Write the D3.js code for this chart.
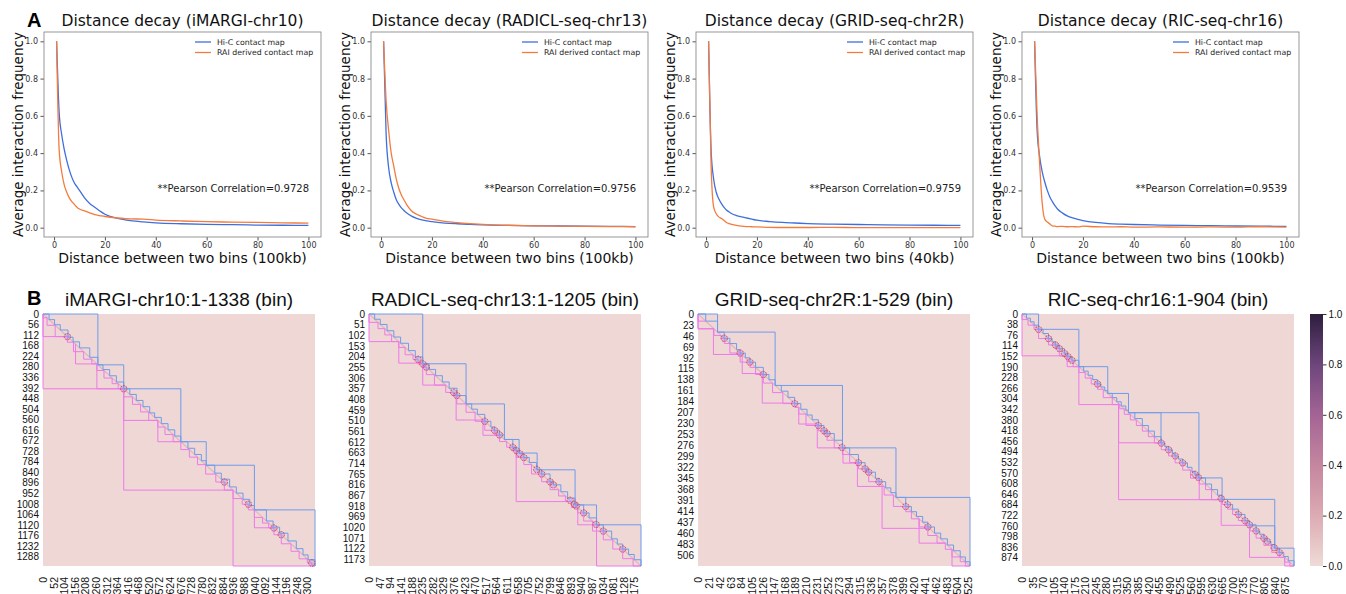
<!DOCTYPE html>
<html>
<head>
<meta charset="utf-8">
<script src="https://cdn.jsdelivr.net/npm/d3@7"></script>
<style>
body { margin: 0; background: #fff; }
svg { display: block; }
</style>
</head>
<body>
<svg id="fig" width="1346" height="594"></svg>
<script>
// ---- panel A: distance decay ----
var decayTitles = ["Distance decay (iMARGI-chr10)", "Distance decay (RADICL-seq-chr13)",
                   "Distance decay (GRID-seq-chr2R)", "Distance decay (RIC-seq-chr16)"];
var decayXLabels = ["Distance between two bins (100kb)", "Distance between two bins (100kb)",
                    "Distance between two bins (40kb)", "Distance between two bins (100kb)"];
var pearson = ["0.9728", "0.9756", "0.9759", "0.9539"];
var seriesNames = ["Hi-C contact map", "RAI derived contact map"];
var decayXTicks = [0, 20, 40, 60, 80, 100];
var decayYTicks = [0, 0.2, 0.4, 0.6, 0.8, 1.0];

var distance = [1, 2, 3, 4, 5, 6, 7, 8, 9, 10, 12, 14, 16, 18, 20, 25, 30, 35, 40, 50, 60, 70, 80, 90, 100];

var hicIMARGI = [1.0, 0.62, 0.50, 0.42, 0.36, 0.31, 0.27, 0.24, 0.22, 0.20, 0.16, 0.13, 0.11, 0.09, 0.072, 0.05, 0.038, 0.031, 0.026, 0.021, 0.018, 0.016, 0.014, 0.013, 0.012];
var raiIMARGI = [1.0, 0.42, 0.30, 0.23, 0.19, 0.16, 0.14, 0.125, 0.11, 0.10, 0.09, 0.08, 0.07, 0.065, 0.06, 0.052, 0.047, 0.046, 0.041, 0.036, 0.032, 0.03, 0.028, 0.026, 0.024];
var hicRADICL = [1.0, 0.50, 0.32, 0.24, 0.19, 0.15, 0.125, 0.106, 0.092, 0.08, 0.062, 0.05, 0.042, 0.036, 0.032, 0.025, 0.021, 0.018, 0.015, 0.012, 0.01, 0.009, 0.008, 0.007, 0.006];
var raiRADICL = [1.0, 0.68, 0.52, 0.40, 0.33, 0.26, 0.21, 0.175, 0.15, 0.125, 0.09, 0.072, 0.06, 0.05, 0.046, 0.034, 0.027, 0.022, 0.018, 0.013, 0.01, 0.008, 0.007, 0.006, 0.005];
var hicGRID = [1.0, 0.41, 0.26, 0.19, 0.155, 0.13, 0.11, 0.095, 0.085, 0.076, 0.065, 0.058, 0.052, 0.046, 0.04, 0.033, 0.028, 0.025, 0.022, 0.019, 0.017, 0.015, 0.014, 0.013, 0.012];
var raiGRID = [1.0, 0.33, 0.11, 0.075, 0.058, 0.05, 0.04, 0.028, 0.022, 0.018, 0.012, 0.008, 0.006, 0.005, 0.004, 0.002, 0.001, 0.001, 0.001, 0.002, 0.0, 0.0, 0.0, 0.0, 0.0];
var hicRIC = [1.0, 0.52, 0.38, 0.30, 0.245, 0.2, 0.165, 0.14, 0.118, 0.1, 0.078, 0.062, 0.052, 0.044, 0.038, 0.028, 0.022, 0.019, 0.017, 0.014, 0.012, 0.011, 0.009, 0.008, 0.007];
var raiRIC = [1.0, 0.6, 0.34, 0.13, 0.045, 0.03, 0.02, 0.01, 0.008, 0.006, 0.007, 0.005, 0.006, 0.004, 0.008, 0.005, 0.004, 0.005, 0.003, 0.004, 0.003, 0.004, 0.003, 0.005, 0.003];

var hicSeries = [hicIMARGI, hicRADICL, hicGRID, hicRIC];
var raiSeries = [raiIMARGI, raiRADICL, raiGRID, raiRIC];

// ---- panel B: contact maps with domains ----
var mapTitles = ["iMARGI-chr10:1-1338 (bin)", "RADICL-seq-chr13:1-1205 (bin)",
                 "GRID-seq-chr2R:1-529 (bin)", "RIC-seq-chr16:1-904 (bin)"];
var mapBins = [1338, 1205, 529, 904];
var mapYStep = [56, 51, 23, 38];
var mapXStep = [52, 47, 21, 35];

// upper triangle (Hi-C, blue) and lower triangle (RAI, pink) domain boundaries
var bigBlue1 = [[0, 270], [270, 397], [397, 678], [678, 803], [803, 1040], [1040, 1338]];
var stepBlue1 = [0, 30, 57, 85, 123, 148, 180, 230, 270, 295, 328, 361, 397, 427, 459, 492, 525, 549, 582, 615, 648, 678, 713, 746, 779, 803, 845, 877, 918, 951, 984, 1017, 1040, 1099, 1132, 1164, 1205, 1246, 1279, 1304, 1338];
var bigPink1 = [[0, 120], [0, 397], [160, 265], [265, 397], [397, 565], [397, 935], [565, 678], [935, 1338], [1040, 1135]];
var stepPink1 = [0, 20, 60, 120, 150, 200, 240, 265, 300, 340, 370, 397, 440, 480, 520, 565, 600, 640, 678, 720, 760, 800, 850, 892, 935, 980, 1010, 1040, 1080, 1110, 1136, 1172, 1220, 1260, 1300, 1322, 1338];
var marks1 = [120, 397, 892, 1010, 1136, 1172, 1322];

var bigBlue2 = [[0, 238], [238, 430], [430, 600], [600, 665], [665, 745], [745, 913], [913, 1008], [1008, 1205]];
var stepBlue2 = [0, 25, 50, 80, 110, 140, 175, 205, 238, 265, 295, 325, 355, 390, 430, 455, 480, 513, 540, 556, 578, 600, 637, 652, 667, 686, 710, 743, 765, 802, 817, 850, 880, 913, 951, 975, 1008, 1038, 1075, 1100, 1124, 1150, 1175, 1205];
var bigPink2 = [[0, 132], [132, 235], [238, 340], [386, 507], [505, 580], [652, 897], [925, 1008], [1008, 1205]];
var stepPink2 = [0, 40, 70, 100, 132, 160, 195, 217, 239, 254, 290, 340, 375, 389, 430, 470, 513, 556, 578, 610, 637, 652, 686, 720, 765, 802, 840, 870, 897, 925, 951, 990, 1038, 1080, 1124, 1170, 1205];
var marks2 = [217, 239, 254, 375, 389, 513, 556, 578, 637, 652, 667, 686, 743, 765, 802, 817, 891, 910, 918, 951, 1006, 1038, 1124];

var bigBlue3 = [[0, 38], [38, 150], [150, 281], [281, 385], [385, 529]];
var stepBlue3 = [0, 15, 38, 51, 62, 75, 82, 92, 101, 112, 127, 138, 150, 162, 175, 188, 200, 212, 222, 234, 245, 251, 265, 281, 295, 312, 325, 332, 345, 352, 365, 375, 385, 404, 415, 425, 437, 447, 460, 472, 485, 497, 510, 520, 529];
var bigPink3 = [[0, 15], [0, 31], [30, 85], [86, 125], [125, 187], [196, 231], [232, 281], [282, 313], [310, 362], [358, 450], [430, 481], [494, 529]];
var stepPink3 = [0, 31, 45, 51, 62, 82, 101, 112, 127, 145, 165, 188, 196, 210, 234, 245, 251, 265, 281, 295, 312, 325, 332, 352, 362, 380, 404, 415, 430, 447, 465, 481, 494, 510, 520, 529];
var marks3 = [51, 82, 101, 127, 188, 234, 245, 251, 280, 312, 325, 332, 352, 404, 447];

var bigBlue4 = [[0, 55], [55, 189], [189, 285], [285, 354], [354, 462], [354, 588], [588, 665], [665, 840], [760, 840], [840, 904]];
var stepBlue4 = [0, 15, 28, 40, 55, 70, 88, 100, 111, 124, 141, 152, 166, 189, 205, 220, 235, 250, 262, 275, 285, 300, 315, 330, 345, 354, 375, 400, 420, 440, 462, 475, 487, 500, 509, 520, 534, 550, 565, 575, 588, 610, 630, 650, 665, 683, 700, 719, 741, 756, 778, 790, 804, 815, 827, 840, 855, 870, 885, 904];
var bigPink4 = [[0, 150], [150, 189], [189, 325], [321, 462], [321, 666], [589, 666], [662, 758], [756, 873], [873, 904]];
var stepPink4 = [0, 20, 40, 55, 88, 111, 124, 150, 170, 189, 210, 230, 251, 270, 300, 325, 340, 360, 380, 400, 420, 440, 463, 487, 509, 534, 560, 589, 610, 630, 666, 683, 700, 719, 741, 758, 778, 804, 830, 855, 873, 890, 904];
var marks4 = [55, 88, 111, 124, 141, 152, 166, 251, 463, 487, 509, 534, 575, 586, 662, 683, 719, 741, 756, 778, 804, 815, 838, 855];

var colorbarTicks = [0, 0.2, 0.4, 0.6, 0.8, 1.0];

var svg = d3.select("#fig");
var blueLine = "#3f6fdc", orangeLine = "#f47b3d";
var tadBlue = "#6f9cec", tadPink = "#ee7aea";

var color = d3.scaleLinear()
  .domain([0, 0.2, 0.4, 0.6, 0.8, 1.0])
  .range(["#efdbd7", "#dcabb3", "#c5869f", "#a36495", "#6d467c", "#2d1e3e"]);

// layout
var decayLeft = [44, 371, 696, 1022];
var decayW = 277, decayTop = 32, decayBottom = 237;
var mapLeft = [43, 369, 698, 1022];
var mapW = 272, mapTop = 314, mapH = 252;

function drawDecay(i) {
  var left = decayLeft[i], right = left + decayW;
  var x = d3.scaleLinear().domain([-3.95, 104.95]).range([left, right]);
  var y = d3.scaleLinear().domain([-0.05, 1.05]).range([decayBottom, decayTop]);
  var g = svg.append("g");

  var xAxis = g.append("g")
      .attr("transform", "translate(0," + decayBottom + ")")
      .call(d3.axisBottom(x).tickValues(decayXTicks).tickSize(3.5).tickPadding(2));
  var yAxis = g.append("g")
      .attr("transform", "translate(" + left + ",0)")
      .call(d3.axisLeft(y).tickValues(decayYTicks).tickFormat(d3.format(".1f")).tickSize(3.5).tickPadding(2.5));
  [xAxis, yAxis].forEach(function(a) {
    a.select(".domain").remove();
    a.selectAll("line").attr("stroke", "#555");
    a.selectAll("text").attr("fill", "#333").style("font", "8px 'DejaVu Sans'");
  });

  g.append("rect")
      .attr("x", left).attr("y", decayTop)
      .attr("width", decayW).attr("height", decayBottom - decayTop)
      .attr("fill", "none").attr("stroke", "#8c8c8c").attr("stroke-width", 0.9);

  var line = d3.line()
      .x(function(d) { return x(d[0]); })
      .y(function(d) { return y(d[1]); })
      .curve(d3.curveMonotoneX);

  [[hicSeries[i], blueLine], [raiSeries[i], orangeLine]].forEach(function(s) {
    g.append("path")
        .attr("d", line(distance.map(function(d, k) { return [d, s[0][k]]; })))
        .attr("fill", "none").attr("stroke", s[1]).attr("stroke-width", 1.3);
  });

  // legend
  seriesNames.forEach(function(name, k) {
    var ly = 42 + k * 10.5;
    g.append("line")
        .attr("x1", right - 126).attr("x2", right - 110)
        .attr("y1", ly).attr("y2", ly)
        .attr("stroke", k === 0 ? blueLine : orangeLine).attr("stroke-width", 1.3);
    g.append("text")
        .attr("x", right - 104).attr("y", ly + 2.7)
        .attr("fill", "#222")
        .style("font", "7.8px 'DejaVu Sans'")
        .text(name);
  });

  g.append("text")
      .attr("x", right - 12).attr("y", 192)
      .attr("text-anchor", "end").attr("fill", "#222")
      .style("font", "10px 'DejaVu Sans'")
      .text("**Pearson Correlation=" + pearson[i]);

  g.append("text")
      .attr("x", (left + right) / 2).attr("y", 26)
      .attr("text-anchor", "middle").attr("fill", "#111")
      .style("font", "15.5px 'DejaVu Sans'")
      .text(decayTitles[i]);

  g.append("text")
      .attr("x", (left + right) / 2).attr("y", 263)
      .attr("text-anchor", "middle").attr("fill", "#111")
      .style("font", "14px 'DejaVu Sans'")
      .text(decayXLabels[i]);

  g.append("text")
      .attr("transform", "translate(" + (left - 21) + "," + ((decayTop + decayBottom) / 2) + ") rotate(-90)")
      .attr("text-anchor", "middle").attr("fill", "#111")
      .style("font", "13.5px 'DejaVu Sans'")
      .text("Average interaction frequency");
}

function stepsToDomains(b) {
  return d3.pairs(b);
}

function drawMap(i, bigBlue, stepBlue, bigPink, stepPink, marks) {
  var n = mapBins[i], left = mapLeft[i];
  var x = d3.scaleLinear().domain([0, n]).range([left, left + mapW]);
  var y = d3.scaleLinear().domain([0, n]).range([mapTop, mapTop + mapH]);
  var g = svg.append("g");

  g.append("rect")
      .attr("x", x(0)).attr("y", y(0))
      .attr("width", x(n) - x(0)).attr("height", y(n) - y(0))
      .attr("fill", color(0.015));

  g.append("line")
      .attr("x1", x(0)).attr("y1", y(0)).attr("x2", x(n)).attr("y2", y(n))
      .attr("stroke", color(0.2)).attr("stroke-width", 1.2).attr("opacity", 0.7);

  var blueDomains = stepsToDomains(stepBlue).concat(bigBlue);
  var pinkDomains = stepsToDomains(stepPink).concat(bigPink);

  g.selectAll(".pink")
    .data(pinkDomains)
    .join("path")
      .attr("d", function(d) { return "M" + x(d[0]) + "," + y(d[0]) + "V" + y(d[1]) + "H" + x(d[1]); })
      .attr("fill", "none").attr("stroke", tadPink).attr("stroke-width", 1);

  g.selectAll(".blue")
    .data(blueDomains)
    .join("path")
      .attr("d", function(d) { return "M" + x(d[0]) + "," + y(d[0]) + "H" + x(d[1]) + "V" + y(d[1]); })
      .attr("fill", "none").attr("stroke", tadBlue).attr("stroke-width", 1);

  g.selectAll("circle")
    .data(marks)
    .join("circle")
      .attr("cx", function(d) { return x(d); })
      .attr("cy", function(d) { return y(d); })
      .attr("r", 3.2)
      .attr("fill", "rgba(150,150,240,0.35)")
      .attr("stroke", "#e0393e").attr("stroke-width", 0.9)
      .attr("stroke-dasharray", "1.8,1");

  var yTicks = d3.range(0, n, mapYStep[i]);
  var xTicks = d3.range(0, n, mapXStep[i]);

  var ya = g.append("g")
      .attr("transform", "translate(" + left + ",0)")
      .call(d3.axisLeft(y).tickValues(yTicks).tickSize(0).tickPadding(4).tickFormat(d3.format("d")));
  ya.select(".domain").remove();
  ya.selectAll("text").attr("fill", "#111").style("font", "10px 'Liberation Sans'");

  var xa = g.append("g")
      .attr("transform", "translate(0," + (mapTop + mapH) + ")")
      .call(d3.axisBottom(x).tickValues(xTicks).tickSize(0).tickFormat(d3.format("d")));
  xa.select(".domain").remove();
  xa.selectAll("text")
      .attr("x", -11).attr("y", 0).attr("dy", "0.35em")
      .attr("transform", "rotate(-90)")
      .style("text-anchor", "end")
      .attr("fill", "#111").style("font", "10.5px 'Liberation Sans'");

  g.append("text")
      .attr("x", left + mapW / 2).attr("y", 306)
      .attr("text-anchor", "middle").attr("fill", "#111")
      .style("font", "19px 'Liberation Sans'")
      .text(mapTitles[i]);
}

d3.range(4).forEach(drawDecay);
drawMap(0, bigBlue1, stepBlue1, bigPink1, stepPink1, marks1);
drawMap(1, bigBlue2, stepBlue2, bigPink2, stepPink2, marks2);
drawMap(2, bigBlue3, stepBlue3, bigPink3, stepPink3, marks3);
drawMap(3, bigBlue4, stepBlue4, bigPink4, stepPink4, marks4);

// colorbar
var cbX = 1310, cbW = 13;
var cbY = d3.scaleLinear().domain([0, 1]).range([mapTop + mapH, mapTop]);
var grad = svg.append("defs").append("linearGradient")
    .attr("id", "cb").attr("x1", 0).attr("y1", 1).attr("x2", 0).attr("y2", 0);
grad.selectAll("stop")
  .data(color.domain())
  .join("stop")
    .attr("offset", function(d) { return d; })
    .attr("stop-color", function(d) { return color(d); });
svg.append("rect")
    .attr("x", cbX).attr("y", cbY(1))
    .attr("width", cbW).attr("height", cbY(0) - cbY(1))
    .attr("fill", "url(#cb)");
var cba = svg.append("g")
    .attr("transform", "translate(" + (cbX + cbW) + ",0)")
    .call(d3.axisRight(cbY).tickValues(colorbarTicks).tickFormat(d3.format(".1f")).tickSize(3.5).tickPadding(2));
cba.select(".domain").remove();
cba.selectAll("line").attr("stroke", "#333");
cba.selectAll("text").attr("fill", "#111").style("font", "10px 'Liberation Sans'");

// panel letters
svg.append("text").attr("x", 27).attr("y", 27)
    .style("font", "bold 20px 'Liberation Sans'").text("A");
svg.append("text").attr("x", 27).attr("y", 305)
    .style("font", "bold 20px 'Liberation Sans'").text("B");
</script>
</body>
</html>
